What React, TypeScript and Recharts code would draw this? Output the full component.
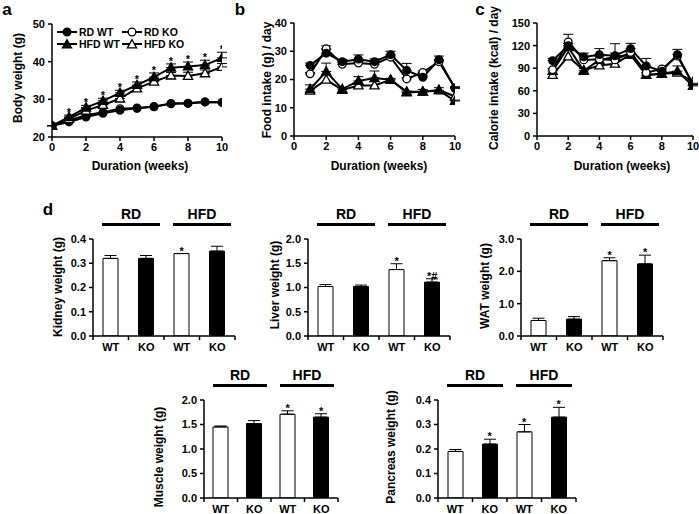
import React from "react";
import { LineChart, Line, XAxis, YAxis, ErrorBar, ComposedChart, Bar, Cell } from "recharts";

const FONT = '"Liberation Sans", Arial, Helvetica, sans-serif';

// a: body weight (g) by week
const weeksA = [0, 1, 2, 3, 4, 5, 6, 7, 8, 9, 10];
const bwRdWt = [23, 24, 25.3, 26.3, 27.1, 27.6, 28, 28.8, 28.9, 29.3, 29.2];
const bwRdKo = [23, 24.4, 25.8, 26.6, 27.5, 27.7, 28.1, 28.9, 29, 29.3, 29.2];
const bwHfdWt = [23, 25.3, 27.8, 29.6, 31.7, 33.8, 35.9, 38.4, 38.7, 39.1, 41];
const bwHfdWtErr = [0, 0.5, 0.6, 0.7, 0.7, 0.8, 1.1, 1.0, 1.2, 1.3, 1.5];
const bwHfdKo = [23, 24.8, 27, 28.5, 30.2, 32.9, 34.7, 36.3, 36.2, 36.9, 38.6];
const bwHfdKoErr = [0, 0.4, 0.5, 0.6, 0.6, 0.7, 0.8, 0.8, 1.0, 0.9, 0.9];
const bwSig = [false, true, true, true, true, true, true, true, true, true, true];

// b: food intake (g/day)
const weeksB = [1, 2, 3, 4, 5, 6, 7, 8, 9, 10];
const fiRdWt = [25, 29.3, 26.3, 27.2, 26.3, 28.8, 23.2, 20.8, 27, 16.9];
const fiRdWtErr = [0.8, 1.2, 0.8, 1.5, 1, 1.2, 2.5, 0.5, 1.3, 0.5];
const fiRdKo = [22, 30.9, 25.4, 25.8, 25.4, 27.9, 20.2, 22.5, 26.3, 17];
const fiRdKoErr = [0.5, 1, 0.5, 0.5, 0.5, 0.5, 0.5, 0.5, 0.5, 0.3];
const fiHfdWt = [16.6, 22.8, 16.6, 19.5, 20.5, 19.9, 15.4, 15.7, 16.1, 12.4];
const fiHfdWtErr = [1.5, 3, 0.5, 1.5, 2.5, 0.5, 0.5, 0.8, 1, 0.3];
const fiHfdKo = [16, 19.9, 16.3, 17.9, 17.9, 19.9, 15.7, 15.7, 16.3, 14];

// c: calorie intake (kcal/day)
const ciRdWt = [100, 120, 105, 108, 106.5, 116, 93, 86, 108, 68];
const ciRdWtErr = [3, 15, 5, 8, 16, 7, 10, 3, 7, 2];
const ciRdKo = [88, 125, 101, 102, 101, 111, 84, 89, 106, 69];
const ciHfdWt = [86.5, 118, 86.5, 101, 105, 108, 81, 82.5, 86, 66.5];
const ciHfdWtErr = [3, 5, 3, 5, 5, 3, 3, 3, 7, 2];
const ciHfdKo = [81, 105.6, 87, 93.7, 96, 108, 81, 82.5, 84, 72];

// d: organ weights
const groups = ["WT", "KO", "WT", "KO"];
const kidney = [0.32, 0.32, 0.34, 0.35];
const kidneyErr = [0.012, 0.012, 0, 0.02];
const kidneySig = ["", "", "*", ""];
const liver = [1.02, 1.02, 1.37, 1.11];
const liverErr = [0.04, 0.03, 0.12, 0.07];
const liverSig = ["", "", "*", "*#"];
const wat = [0.48, 0.52, 2.33, 2.23];
const watErr = [0.07, 0.08, 0.09, 0.27];
const watSig = ["", "", "*", "*"];
const muscle = [1.45, 1.52, 1.71, 1.65];
const muscleErr = [0.02, 0.06, 0.07, 0.07];
const muscleSig = ["", "", "*", "*"];
const pancreas = [0.19, 0.22, 0.27, 0.33];
const pancreasErr = [0.008, 0.02, 0.03, 0.04];
const pancreasSig = ["", "*", "*", "*"];

const tickStyle = { fill: "#000", fontSize: 11, fontWeight: "bold", fontFamily: FONT };
const axisStyle = { stroke: "#000", strokeWidth: 1.5 };

const marker = (shape: string, filled: boolean) => (p: any) => {
  const { cx, cy, index } = p;
  if (cx == null || cy == null) return <g key={"n" + index} />;
  const fill = filled ? "#000" : "#fff";
  if (shape === "circle")
    return <circle key={"c" + index} cx={cx} cy={cy} r={3.8} fill={fill} stroke="#000" strokeWidth={1.3} />;
  return (
    <path
      key={"t" + index}
      d={`M${cx},${cy - 4.8}L${cx + 4.6},${cy + 3.4}L${cx - 4.6},${cy + 3.4}Z`}
      fill={fill}
      stroke="#000"
      strokeWidth={1.3}
    />
  );
};

const sigText = (p: any) => {
  const { cx, cy, index, payload } = p;
  if (cx == null || cy == null || !payload.mark) return <g key={"s" + index} />;
  return (
    <text key={"s" + index} x={cx} y={cy + 1} textAnchor="middle" fontSize={11} fontWeight="bold" fontFamily={FONT} fill="#000">
      {payload.mark}
    </text>
  );
};

const VLabel = ({ x, y, text }: any) => (
  <div
    style={{
      position: "absolute", left: x, top: y, transform: "translate(-50%,-50%) rotate(-90deg)",
      whiteSpace: "nowrap", fontSize: 12, fontWeight: "bold", fontFamily: FONT, color: "#000",
    }}
  >
    {text}
  </div>
);

const HLabel = ({ x, y, text, size = 12 }: any) => (
  <div
    style={{
      position: "absolute", left: x, top: y, transform: "translate(-50%,-50%)",
      whiteSpace: "nowrap", fontSize: size, fontWeight: "bold", fontFamily: FONT, color: "#000",
    }}
  >
    {text}
  </div>
);

const series = [
  { key: "rdKo", shape: "circle", filled: false },
  { key: "rdWt", shape: "circle", filled: true },
  { key: "hfdKo", shape: "tri", filled: false },
  { key: "hfdWt", shape: "tri", filled: true },
];

function TimePanel({ left, top, width, plotLeft, plotRight, plotTop, plotBottom, rows, yDomain, yTicks, order, stars }: any) {
  const height = 180;
  return (
    <div style={{ position: "absolute", left, top }}>
      <LineChart
        width={width}
        height={height}
        data={rows}
        margin={{ top: plotTop - top, right: left + width - plotRight, left: 0, bottom: height - (plotBottom - top) - 24 }}
        style={{ overflow: "visible" }}
      >
        <XAxis
          type="number" dataKey="w" domain={[0, 10]} ticks={[0, 2, 4, 6, 8, 10]} allowDataOverflow
          height={24} tickSize={4} tickMargin={2} tick={tickStyle} axisLine={axisStyle} tickLine={axisStyle}
        />
        <YAxis
          domain={yDomain} ticks={yTicks} allowDataOverflow width={plotLeft - left}
          tickSize={4} tickMargin={3} tick={tickStyle} axisLine={axisStyle} tickLine={axisStyle}
        />
        {order.map((k: string) => {
          const s = series.find((x) => x.key === k)!;
          return (
            <Line
              key={k} dataKey={k} stroke="#000" strokeWidth={2} isAnimationActive={false}
              dot={marker(s.shape, s.filled)} activeDot={false}
            >
              {rows[0][k + "E"] !== undefined && (
                <ErrorBar dataKey={k + "E"} width={5} stroke="#000" strokeWidth={1} direction="y" />
              )}
            </Line>
          );
        })}
        {stars && (
          <Line dataKey="star" stroke="none" isAnimationActive={false} dot={sigText} activeDot={false} />
        )}
      </LineChart>
    </div>
  );
}

function LegendItem({ x, y, shape, filled, text }: any) {
  return (
    <div style={{ position: "absolute", left: x, top: y - 6, height: 12, display: "flex", alignItems: "center" }}>
      <svg width={20} height={12}>
        <line x1={0} y1={6} x2={20} y2={6} stroke="#000" strokeWidth={2} />
        {marker(shape, filled)({ cx: 10, cy: shape === "tri" ? 6.5 : 6, index: 0 })}
      </svg>
      <span style={{ marginLeft: 2, fontSize: 10.5, fontWeight: "bold", fontFamily: FONT, color: "#000" }}>{text}</span>
    </div>
  );
}

function BarPanel({ values, errs, marks, plotLeft, plotTop, plotW, plotH, max, ticks, title, titleX, titleY }: any) {
  const yw = 40;
  const mt = 14;
  const xh = 22;
  const band = plotW / values.length;
  const rows = values.map((v: number, i: number) => ({
    name: groups[i], v, err: [0, errs[i]], mark: marks[i], markY: marks[i] ? v + errs[i] : null,
  }));
  const catTick = (p: any) => {
    const { x, y, index, payload } = p;
    const last = index === values.length - 1;
    return (
      <g key={"k" + index}>
        <line x1={x - band / 2} y1={y} x2={x - band / 2} y2={y + 4} stroke="#000" strokeWidth={1.5} />
        {last && <line x1={x + band / 2} y1={y} x2={x + band / 2} y2={y + 4} stroke="#000" strokeWidth={1.5} />}
        <text x={x} y={y + 15} textAnchor="middle" fontSize={11} fontWeight="bold" fontFamily={FONT} fill="#000">
          {payload.value}
        </text>
      </g>
    );
  };
  const lines = [0, 1].map((g) => ({
    x1: plotLeft + g * 2 * band + 9,
    x2: plotLeft + (g + 1) * 2 * band - 4,
    label: g === 0 ? "RD" : "HFD",
  }));
  return (
    <>
      <div style={{ position: "absolute", left: plotLeft - yw, top: plotTop - mt }}>
        <ComposedChart
          width={yw + plotW + 10} height={mt + plotH + xh} data={rows}
          margin={{ top: mt, right: 10, left: 0, bottom: 0 }} style={{ overflow: "visible" }}
        >
          <XAxis
            dataKey="name" height={xh} tickSize={0} tickMargin={0} tickLine={false}
            axisLine={axisStyle} tick={catTick} interval={0}
          />
          <YAxis
            domain={[0, max]} ticks={ticks} allowDataOverflow width={yw} tickSize={4} tickMargin={3}
            tick={tickStyle} axisLine={axisStyle} tickLine={axisStyle} tickFormatter={(t: number) => t.toFixed(1)}
          />
          <Bar dataKey="v" barSize={15} isAnimationActive={false} stroke="#000" strokeWidth={1}>
            {rows.map((r: any, i: number) => (
              <Cell key={i} fill={i % 2 === 0 ? "#fff" : "#000"} />
            ))}
            <ErrorBar dataKey="err" width={6} stroke="#000" strokeWidth={1} direction="y" />
          </Bar>
          <Line dataKey="markY" stroke="none" isAnimationActive={false} dot={sigText} activeDot={false} />
        </ComposedChart>
      </div>
      {lines.map((l) => (
        <React.Fragment key={l.label}>
          <div style={{ position: "absolute", left: l.x1, top: plotTop - 16.5, width: l.x2 - l.x1, height: 3, background: "#000" }} />
          <HLabel x={(l.x1 + l.x2) / 2} y={plotTop - 25} text={l.label} size={14} />
        </React.Fragment>
      ))}
      <VLabel x={titleX} y={titleY} text={title} />
    </>
  );
}

export default function App() {
  const rowsA = weeksA.map((w, i) => ({
    w, rdWt: bwRdWt[i], rdKo: bwRdKo[i], hfdWt: bwHfdWt[i], hfdWtE: [0, bwHfdWtErr[i]],
    hfdKo: bwHfdKo[i], hfdKoE: [0, bwHfdKoErr[i]],
    star: bwSig[i] ? bwHfdWt[i] + bwHfdWtErr[i] : null, mark: bwSig[i] ? "*" : "",
  }));
  const rowsB = weeksB.map((w, i) => ({
    w, rdWt: fiRdWt[i], rdWtE: [0, fiRdWtErr[i]], rdKo: fiRdKo[i], rdKoE: [0, fiRdKoErr[i]],
    hfdWt: fiHfdWt[i], hfdWtE: [0, fiHfdWtErr[i]], hfdKo: fiHfdKo[i],
  }));
  const rowsC = weeksB.map((w, i) => ({
    w, rdWt: ciRdWt[i], rdWtE: [0, ciRdWtErr[i]], rdKo: ciRdKo[i],
    hfdWt: ciHfdWt[i], hfdWtE: [0, ciHfdWtErr[i]], hfdKo: ciHfdKo[i],
  }));
  return (
    <div style={{ position: "absolute", left: 0, top: 0, width: 699, height: 514, background: "#fff", overflow: "hidden", fontFamily: FONT }}>
      <HLabel x={7} y={10} text="a" size={17} />
      <HLabel x={240} y={10} text="b" size={17} />
      <HLabel x={480} y={10} text="c" size={17} />
      <HLabel x={48} y={210} text="d" size={17} />

      <TimePanel
        left={0} top={0} width={240} plotLeft={52} plotRight={222} plotTop={24} plotBottom={137}
        rows={rowsA} yDomain={[20, 50]} yTicks={[20, 30, 40, 50]} order={["rdKo", "rdWt", "hfdKo", "hfdWt"]} stars
      />
      <VLabel x={18} y={78} text="Body weight (g)" />
      <HLabel x={140} y={166} text="Duration (weeks)" />
      <LegendItem x={57} y={32} shape="circle" filled text="RD WT" />
      <LegendItem x={122} y={32} shape="circle" filled={false} text="RD KO" />
      <LegendItem x={57} y={44} shape="tri" filled text="HFD WT" />
      <LegendItem x={122} y={44} shape="tri" filled={false} text="HFD KO" />

      <TimePanel
        left={230} top={0} width={240} plotLeft={294} plotRight={455} plotTop={23} plotBottom={136}
        rows={rowsB} yDomain={[0, 40]} yTicks={[0, 10, 20, 30, 40]} order={["hfdKo", "hfdWt", "rdKo", "rdWt"]}
      />
      <VLabel x={267} y={80} text="Food intake (g) / day" />
      <HLabel x={379} y={166} text="Duration (weeks)" />

      <TimePanel
        left={460} top={0} width={239} plotLeft={537} plotRight={693} plotTop={23} plotBottom={136}
        rows={rowsC} yDomain={[0, 150]} yTicks={[0, 30, 60, 90, 120, 150]} order={["hfdKo", "hfdWt", "rdKo", "rdWt"]}
      />
      <VLabel x={494} y={78} text="Calorie intake (kcal) / day" />
      <HLabel x={622} y={166} text="Duration (weeks)" />

      <BarPanel values={kidney} errs={kidneyErr} marks={kidneySig} plotLeft={93} plotTop={239} plotW={142} plotH={97}
        max={0.4} ticks={[0, 0.1, 0.2, 0.3, 0.4]} title="Kidney weight (g)" titleX={58} titleY={287} />
      <BarPanel values={liver} errs={liverErr} marks={liverSig} plotLeft={308} plotTop={239} plotW={142} plotH={97}
        max={2} ticks={[0, 0.5, 1, 1.5, 2]} title="Liver weight (g)" titleX={275} titleY={285} />
      <BarPanel values={wat} errs={watErr} marks={watSig} plotLeft={521} plotTop={239} plotW={142} plotH={97}
        max={3} ticks={[0, 1, 2, 3]} title="WAT weight (g)" titleX={485} titleY={286} />
      <BarPanel values={muscle} errs={muscleErr} marks={muscleSig} plotLeft={204} plotTop={400} plotW={134} plotH={98}
        max={2} ticks={[0, 0.5, 1, 1.5, 2]} title="Muscle weight (g)" titleX={159} titleY={457} />
      <BarPanel values={pancreas} errs={pancreasErr} marks={pancreasSig} plotLeft={438} plotTop={400} plotW={138} plotH={98}
        max={0.4} ticks={[0, 0.1, 0.2, 0.3, 0.4]} title="Pancreas weight (g)" titleX={391} titleY={447} />
    </div>
  );
}
